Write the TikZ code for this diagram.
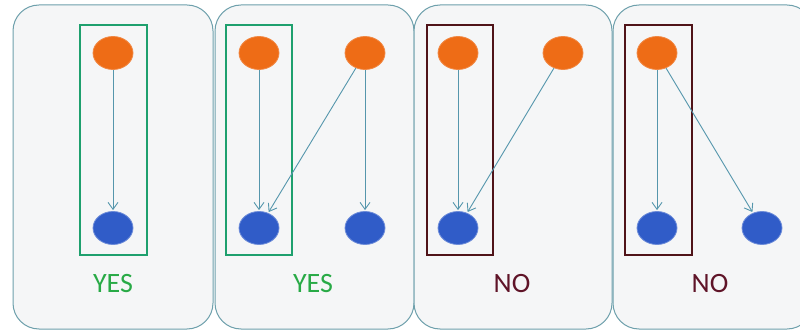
\documentclass[tikz,border=0pt]{standalone}
\usepackage{fontspec}
\setmainfont{Carlito}
\usetikzlibrary{arrows.meta,shapes.geometric}
\definecolor{panelfill}{RGB}{245,246,247}
\definecolor{paneledge}{RGB}{110,160,172}
\definecolor{orangenode}{RGB}{238,108,22}
\definecolor{bluenode}{RGB}{48,92,200}
\definecolor{edgecol}{RGB}{85,150,172}
\definecolor{yesgreen}{RGB}{40,170,70}
\definecolor{yesbox}{RGB}{30,160,110}
\definecolor{noboxcol}{RGB}{80,20,25}
\definecolor{notext}{RGB}{95,20,40}
\tikzset{
  panel/.style={draw=paneledge, fill=panelfill, line width=1pt, rounded corners=26pt},
  cause/.style={ellipse, minimum width=40pt, minimum height=33pt, inner sep=0pt,
    fill=orangenode, draw=orangenode!80!white, line width=0.8pt},
  effect/.style={ellipse, minimum width=40pt, minimum height=33pt, inner sep=0pt,
    fill=bluenode, draw=bluenode!70!white, line width=0.8pt},
  link/.style={draw=edgecol, line width=0.9pt, -{Straight Barb[length=7pt,width=10pt,line width=0.9pt]}, shorten >=1pt},
  goodbox/.style={draw=yesbox, line width=1.4pt},
  badbox/.style={draw=noboxcol, line width=1.4pt},
  verdict/.style={font=\fontsize{28}{28}\selectfont, inner sep=0pt},
}
\begin{document}
\begin{tikzpicture}[x=1pt,y=-1pt]
\useasboundingbox (0,0) rectangle (800,331);
\clip (0,0) rectangle (800,331);
\fill[white] (0,0) rectangle (800,331);

% background panels
\draw[panel] (13,5) rectangle (213,329);
\draw[panel] (215,5) rectangle (414,329);
\draw[panel] (414,5) rectangle (612,329);
\draw[panel] (613,5) rectangle (813,329);

% panel 1
\draw[goodbox] (80,25) rectangle (147,255);
\node[cause] (a1) at (113,53) {};
\node[effect] (b1) at (113,228) {};
\draw[link] (a1) -- (b1);
\node[verdict, text=yesgreen] (v1) at (113,284) {YES};

% panel 2
\draw[goodbox] (226,25) rectangle (292,255);
\node[cause] (a2) at (259,53) {};
\node[cause] (c2) at (365,53) {};
\node[effect] (b2) at (259,228) {};
\node[effect] (d2) at (365,228) {};
\draw[link] (a2) -- (b2);
\draw[link] (c2) -- (b2);
\draw[link] (c2) -- (d2);
\node[verdict, text=yesgreen] (v2) at (313,284) {YES};

% panel 3
\draw[badbox] (427,25) rectangle (493,255);
\node[cause] (a3) at (458,53) {};
\node[cause] (c3) at (563,53) {};
\node[effect] (b3) at (458,228) {};
\draw[link] (a3) -- (b3);
\draw[link] (c3) -- (b3);
\node[verdict, text=notext] (v3) at (512,284) {NO};

% panel 4
\draw[badbox] (625,25) rectangle (692,255);
\node[cause] (a4) at (657,53) {};
\node[effect] (b4) at (657,228) {};
\node[effect] (d4) at (762,228) {};
\draw[link] (a4) -- (b4);
\draw[link] (a4) -- (d4);
\node[verdict, text=notext] (v4) at (710,284) {NO};
\end{tikzpicture}
\end{document}
